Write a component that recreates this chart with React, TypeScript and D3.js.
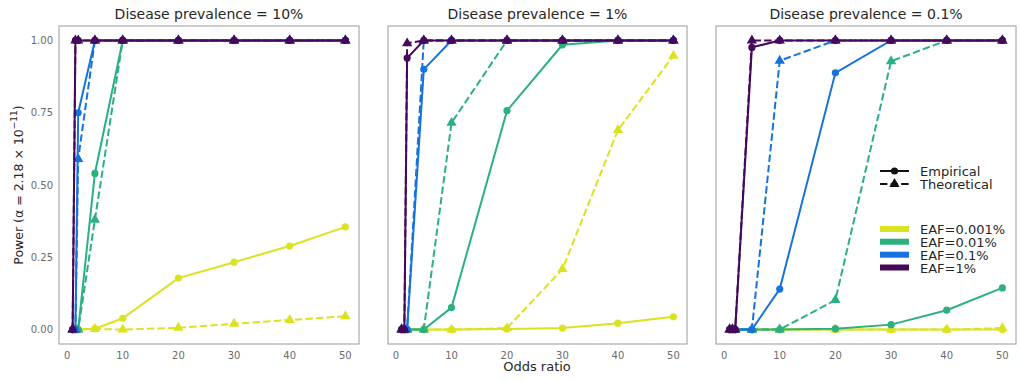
import React from "react";
import * as d3 from "d3";

// odds ratios tested (x values)
const oddsRatios = [1, 1.5, 2, 5, 10, 20, 30, 40, 50];

// series order: EAF=0.001%, 0.01%, 0.1%, 1%
const eafLabels = ["EAF=0.001%", "EAF=0.01%", "EAF=0.1%", "EAF=1%"];
const eafColors = ["#dbe21f", "#2bb07f", "#1672dc", "#46085c"];

const panelTitles = ["Disease prevalence = 10%", "Disease prevalence = 1%", "Disease prevalence = 0.1%"];

// prevalence 10%
const prev10Empirical = [
  [0, 0, 0, 0.003, 0.039, 0.178, 0.233, 0.289, 0.355],
  [0, 0, 0, 0.54, 1, 1, 1, 1, 1],
  [0, 0, 0.75, 1, 1, 1, 1, 1, 1],
  [0, 1, 1, 1, 1, 1, 1, 1, 1],
];
const prev10Theoretical = [
  [0, 0, 0, 0.002, 0, 0.006, 0.02, 0.033, 0.046],
  [0, 0, 0, 0.38, 1, 1, 1, 1, 1],
  [0, 0, 0.59, 1, 1, 1, 1, 1, 1],
  [0, 1, 1, 1, 1, 1, 1, 1, 1],
];

// prevalence 1%
const prev1Empirical = [
  [0, 0, 0, 0, 0, 0.002, 0.005, 0.022, 0.044],
  [0, 0, 0, 0, 0.076, 0.757, 0.985, 1, 1],
  [0, 0, 0, 0.9, 1, 1, 1, 1, 1],
  [0, 0, 0.939, 1, 1, 1, 1, 1, 1],
];
const prev1Theoretical = [
  [0, 0, 0, 0, 0, 0.005, 0.209, 0.69, 0.947],
  [0, 0, 0, 0, 0.715, 1, 1, 1, 1],
  [0, 0, 0, 1, 1, 1, 1, 1, 1],
  [0, 0, 0.99, 1, 1, 1, 1, 1, 1],
];

// prevalence 0.1%
const prev01Empirical = [
  [0, 0, 0, 0, 0, 0, 0, 0, 0],
  [0, 0, 0, 0, 0, 0.003, 0.017, 0.067, 0.144],
  [0, 0, 0, 0, 0.14, 0.888, 1, 1, 1],
  [0, 0, 0, 0.976, 1, 1, 1, 1, 1],
];
const prev01Theoretical = [
  [0, 0, 0, 0, 0, 0, 0, 0, 0.005],
  [0, 0, 0, 0, 0, 0.102, 0.928, 1, 1],
  [0, 0, 0, 0, 0.93, 1, 1, 1, 1],
  [0, 0, 0, 1, 1, 1, 1, 1, 1],
];

const xTicks = [0, 10, 20, 30, 40, 50];
const yTicks = [0, 0.25, 0.5, 0.75, 1];

const panels = [
  { title: panelTitles[0], emp: prev10Empirical, theo: prev10Theoretical, x0: 59, x1: 359 },
  { title: panelTitles[1], emp: prev1Empirical, theo: prev1Theoretical, x0: 388, x1: 687 },
  { title: panelTitles[2], emp: prev01Empirical, theo: prev01Theoretical, x0: 716, x1: 1016 },
];

const TOP = 26;
const BOTTOM = 344;
const FONT = "DejaVu Sans, sans-serif";

const tri = d3.symbol().type(d3.symbolTriangle).size(46)();

function Panel({ p, first }: { p: any; first: boolean }) {
  const x = d3.scaleLinear().domain([-1.45, 52.45]).range([p.x0, p.x1]);
  const y = d3.scaleLinear().domain([-0.05, 1.05]).range([BOTTOM, TOP]);
  const line = d3.line<number>().x((_, i) => x(oddsRatios[i])).y(d => y(d));

  return (
    <g>
      <defs>
        <clipPath id={`clip-${p.x0}`}>
          <rect x={p.x0} y={TOP} width={p.x1 - p.x0} height={BOTTOM - TOP} />
        </clipPath>
      </defs>
      <text x={(p.x0 + p.x1) / 2} y={19} textAnchor="middle" fontSize={14} fill="#262626" fontFamily={FONT}>
        {p.title}
      </text>
      {xTicks.map(t => (
        <text key={t} x={x(t)} y={359} textAnchor="middle" fontSize={10} fill="#6b6b6b" fontFamily={FONT}>
          {t}
        </text>
      ))}
      {first &&
        yTicks.map(t => (
          <text key={t} x={p.x0 - 6} y={y(t) + 3.5} textAnchor="end" fontSize={10} fill="#6b6b6b" fontFamily={FONT}>
            {t.toFixed(2)}
          </text>
        ))}
      <g clipPath={`url(#clip-${p.x0})`}>
        {eafColors.map((c, k) => (
          <g key={k}>
            <path d={line(p.emp[k]) || ""} fill="none" stroke={c} strokeWidth={2} />
            {p.emp[k].map((v: number, i: number) => (
              <circle key={i} cx={x(oddsRatios[i])} cy={y(v)} r={3.6} fill={c} />
            ))}
            <path d={line(p.theo[k]) || ""} fill="none" stroke={c} strokeWidth={2} strokeDasharray="7.4,3.2" />
            {p.theo[k].map((v: number, i: number) => (
              <path key={i} d={tri || ""} transform={`translate(${x(oddsRatios[i])},${y(v)})`} fill={c} />
            ))}
          </g>
        ))}
      </g>
      <rect x={p.x0} y={TOP} width={p.x1 - p.x0} height={BOTTOM - TOP} fill="none" stroke="#9a9a9a" strokeWidth={1} />
    </g>
  );
}

export default function App() {
  const lx0 = 880;
  const lx1 = 909;
  const legendRows = [229, 241.7, 254.7, 267.5];
  return (
    <svg width={1020} height={381} style={{ position: "absolute", left: 0, top: 0, background: "#fff" }}>
      {panels.map((p, i) => (
        <Panel key={i} p={p} first={i === 0} />
      ))}
      {/* axis labels */}
      <text x={537} y={371} textAnchor="middle" fontSize={13} fill="#262626" fontFamily={FONT}>
        Odds ratio
      </text>
      <text
        transform="translate(23,185) rotate(-90)"
        textAnchor="middle"
        fontSize={12.5}
        fill="#262626"
        fontFamily={FONT}
      >
        Power (α = 2.18 × 10
        <tspan dy={-6} fontSize={9}>−11</tspan>
        <tspan dy={6}>)</tspan>
      </text>
      {/* legend: marker styles */}
      <line x1={lx0} x2={lx1} y1={171} y2={171} stroke="#111" strokeWidth={2} />
      <circle cx={(lx0 + lx1) / 2} cy={171} r={3.6} fill="#111" />
      <text x={920} y={176} fontSize={13} fill="#262626" fontFamily={FONT}>Empirical</text>
      <line x1={lx0} x2={lx1} y1={184} y2={184} stroke="#111" strokeWidth={2} strokeDasharray="7.4,3.2" />
      <path d={tri || ""} transform={`translate(${(lx0 + lx1) / 2},184)`} fill="#111" />
      <text x={920} y={189} fontSize={13} fill="#262626" fontFamily={FONT}>Theoretical</text>
      {/* legend: EAF colours */}
      {eafLabels.map((l, k) => (
        <g key={l}>
          <line x1={lx0} x2={lx1} y1={legendRows[k]} y2={legendRows[k]} stroke={eafColors[k]} strokeWidth={6} />
          <text x={920} y={legendRows[k] + 5} fontSize={13} fill="#262626" fontFamily={FONT}>{l}</text>
        </g>
      ))}
    </svg>
  );
}
